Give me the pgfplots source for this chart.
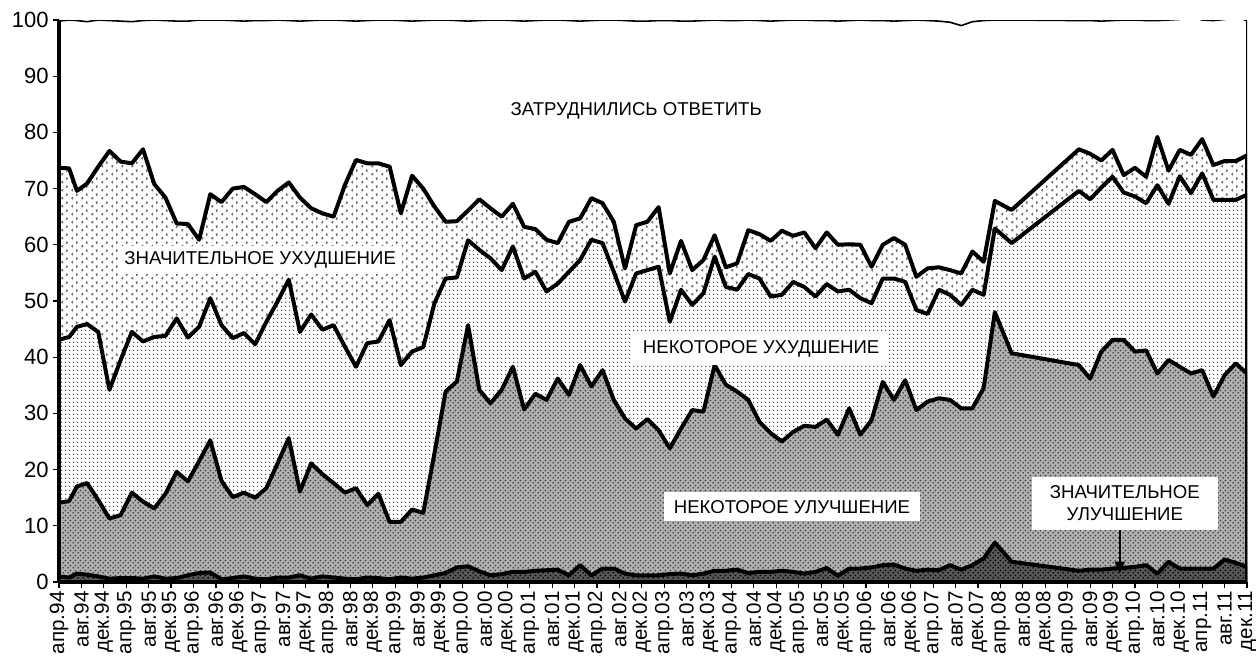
\documentclass[border=0pt]{standalone}
\usepackage{fontspec}
\setmainfont{Liberation Sans}
\usepackage{pgfplots}
\usepackage{pgfplotstable}
\pgfplotsset{compat=1.18}
\usetikzlibrary{patterns,arrows.meta}

\pgfdeclarepatternformonly{fdots}{\pgfpointorigin}{\pgfpoint{2pt}{2pt}}{\pgfpoint{2pt}{2pt}}{%
  \pgfpathcircle{\pgfpoint{1pt}{1pt}}{0.42pt}\pgfusepath{fill}}
\pgfdeclarepatternformonly{xdots}{\pgfpointorigin}{\pgfpoint{2.4pt}{2.4pt}}{\pgfpoint{2.4pt}{2.4pt}}{%
  \pgfpathcircle{\pgfpoint{0.6pt}{0.6pt}}{0.5pt}\pgfpathcircle{\pgfpoint{1.8pt}{1.8pt}}{0.5pt}\pgfusepath{fill}}
\pgfdeclarepatternformonly{chev}{\pgfpointorigin}{\pgfpoint{5pt}{4pt}}{\pgfpoint{5pt}{4pt}}{%
  \pgfsetlinewidth{0.5pt}%
  \pgfpathmoveto{\pgfpoint{1.7pt}{1.6pt}}\pgfpathlineto{\pgfpoint{0.9pt}{1pt}}\pgfpathlineto{\pgfpoint{1.7pt}{0.4pt}}%
  \pgfpathmoveto{\pgfpoint{3.3pt}{3.6pt}}\pgfpathlineto{\pgfpoint{4.1pt}{3pt}}\pgfpathlineto{\pgfpoint{3.3pt}{2.4pt}}%
  \pgfusepath{stroke}}

% m = months since April 1994; L1..L5 = cumulative boundaries
\pgfplotstableread{
m L1 L2 L3 L4 L5
0 1.0 14.1 43.1 73.7 99.8
1.8 0.8 14.4 43.6 73.6 100.0
3.2 1.5 17.0 45.4 69.6 99.9
5 1.3 17.6 45.9 70.9 99.7
7 1.0 14.6 44.5 73.9 100.0
9 0.6 11.3 34.2 76.7 99.9
11 0.7 11.9 39.5 74.8 99.8
13 0.7 15.9 44.5 74.5 99.7
15 0.6 14.3 42.8 77.0 99.9
17 1.0 13.1 43.6 70.8 100.0
19 0.6 15.7 43.8 68.4 99.9
21 0.7 19.6 46.9 63.8 99.8
23 1.2 17.9 43.5 63.7 99.8
25 1.6 21.5 45.4 60.9 100.0
27 1.7 25.2 50.5 69.0 100.0
29 0.5 18.0 45.7 67.6 100.0
31 0.7 15.1 43.4 70.0 99.9
33 1.0 15.9 44.3 70.3 99.8
35 0.6 15.0 42.3 69.0 99.9
37 0.5 16.7 46.3 67.6 99.9
39 0.8 21.1 49.9 69.6 100.0
41 0.8 25.6 53.8 71.1 99.9
43 1.2 16.1 44.5 68.4 99.8
45 0.6 21.1 47.6 66.5 99.9
47 1.0 19.2 44.9 65.6 100.0
49 0.8 17.6 45.7 65.0 100.0
51 0.6 15.9 41.9 70.6 99.9
53 0.5 16.7 38.3 75.1 99.8
55 0.8 13.7 42.5 74.5 99.9
57 0.7 15.7 42.8 74.5 100.0
59 0.5 10.7 46.6 73.9 100.0
61 0.8 10.7 38.6 65.6 99.9
63 0.6 12.9 41.0 72.3 99.8
65 0.8 12.3 41.8 70.0 99.9
67 1.2 22.9 49.6 66.8 100.0
69 1.6 33.9 54.0 64.1 100.0
71 2.6 35.7 54.2 64.2 99.9
73 2.8 45.7 60.8 66.1 99.8
75 1.9 34.2 59.1 68.1 99.9
77 1.2 31.8 57.6 66.5 100.0
79 1.4 34.2 55.5 65.0 100.0
81 1.8 38.3 59.7 67.3 99.9
83 1.8 30.7 54.0 63.2 99.8
85 2.0 33.5 55.2 62.8 99.9
87 2.1 32.4 51.7 60.9 100.0
89 2.2 36.2 53.1 60.3 100.0
91 1.2 33.3 55.2 64.1 99.9
93 3.0 38.6 57.3 64.7 99.8
95 1.2 34.8 60.9 68.3 99.9
97 2.4 37.7 60.3 67.4 100.0
99 2.4 32.4 55.2 64.1 100.0
101 1.5 29.1 49.9 55.8 99.9
103 1.2 27.3 54.9 63.5 99.8
105 1.2 29.0 55.5 64.1 99.8
107 1.2 27.0 56.1 66.7 99.9
109 1.4 23.8 46.3 54.9 99.9
111 1.5 27.3 52.0 60.7 99.8
113 1.2 30.6 49.3 55.5 99.8
115 1.5 30.3 51.4 57.3 99.9
117 2.0 38.6 57.9 61.7 100.0
119 2.0 35.1 52.5 56.0 99.9
121 2.2 33.9 52.0 56.7 99.9
123 1.6 32.4 54.8 62.6 100.0
125 1.8 28.5 54.0 61.9 99.9
127 1.8 26.5 50.8 60.7 99.8
129 2.0 25.0 51.1 62.5 99.9
131 1.8 26.7 53.4 61.6 100.0
133 1.5 27.8 52.5 62.2 100.0
135 1.8 27.6 50.8 59.4 99.9
137 2.5 28.9 53.0 62.2 99.9
139 1.1 26.2 51.7 60.0 99.8
141 2.4 30.9 52.0 60.1 99.9
143 2.4 26.2 50.5 60.0 100.0
145 2.6 28.8 49.6 56.1 99.9
147 3.0 35.6 54.0 60.0 99.9
149 3.1 32.4 54.0 61.2 99.8
151 2.4 35.9 53.4 60.0 99.9
153 2.0 30.6 48.4 54.3 100.0
155 2.2 32.1 47.7 55.8 99.9
157 2.1 32.7 52.0 56.0 99.8
159 3.0 32.4 51.1 55.5 99.6
161 2.2 30.9 49.3 54.9 99.0
163 3.0 30.9 52.0 58.8 99.7
165 4.2 34.5 51.1 57.0 99.9
167 7.0 48.0 62.9 67.8 100.0
170 3.6 40.7 60.3 66.2 100.0
182 2.0 38.6 69.6 77.0 99.9
184 2.2 36.2 68.1 76.2 99.9
186 2.2 41.0 70.2 75.0 99.8
188 2.4 43.1 72.1 76.9 99.9
190 2.5 43.1 69.3 72.4 100.0
192 2.7 41.0 68.6 73.7 100.0
194 3.0 41.2 67.4 72.1 99.9
196 1.5 37.1 70.6 79.2 99.9
198 3.6 39.5 67.3 73.2 100.0
200 2.4 38.3 72.2 76.9 100.1
202 2.4 37.1 69.2 76.0 100.6
204 2.4 37.7 72.7 78.8 100.0
206 2.4 33.0 68.0 74.2 99.9
208 4.0 36.8 68.0 74.9 100.1
210 3.4 38.9 68.0 74.9 100.5
212 2.7 37.1 68.9 75.9 99.9
}\datatable

\begin{document}
\begin{tikzpicture}
\useasboundingbox (-29.5pt,-36.5pt) rectangle (598.5pt,291pt);
\begin{axis}[
  at={(0,0)}, anchor=south west,
  scale only axis, width=594pt, height=281pt,
  xmin=0, xmax=212, ymin=0, ymax=100,
  axis x line*=bottom, axis y line*=left,
  axis line style={line width=1.6pt},
  xtick={0,4,...,212}, ytick={0,10,...,100},
  tick align=outside, major tick length=3pt,
  tick style={black, line width=0.6pt},
  /pgf/number format/assume math mode=true,
  xticklabels={апр.94,авг.94,дек.94,апр.95,авг.95,дек.95,апр.96,авг.96,дек.96,апр.97,авг.97,дек.97,апр.98,авг.98,дек.98,апр.99,авг.99,дек.99,апр.00,авг.00,дек.00,апр.01,авг.01,дек.01,апр.02,авг.02,дек.02,апр.03,авг.03,дек.03,апр.04,авг.04,дек.04,апр.05,авг.05,дек.05,апр.06,авг.06,дек.06,апр.07,авг.07,дек.07,апр.08,авг.08,дек.08,апр.09,авг.09,дек.09,апр.10,авг.10,дек.10,апр.11,авг.11,дек.11},
  xticklabel style={rotate=90, anchor=east, font=\fontsize{10.3}{11}\selectfont, inner sep=1.5pt},
  yticklabel style={font=\fontsize{11}{12}\selectfont, inner sep=2pt},
  axis on top,
  clip=true,
]
% fills
\addplot[draw=none, fill=white] table[x=m,y=L5]{\datatable} \closedcycle;
\addplot[draw=none, preaction={fill=white}, pattern=chev, pattern color=black!60] table[x=m,y=L4]{\datatable} \closedcycle;
\addplot[draw=none, preaction={fill=white}, pattern=fdots, pattern color=black!75] table[x=m,y=L3]{\datatable} \closedcycle;
\addplot[draw=none, preaction={fill=black!30}, pattern=xdots, pattern color=black!75] table[x=m,y=L2]{\datatable} \closedcycle;
\addplot[draw=none, preaction={fill=black!65}, pattern=xdots, pattern color=black] table[x=m,y=L1]{\datatable} \closedcycle;
% boundary lines
\addplot[draw=black, line width=0.8pt, line join=round] table[x=m,y=L5]{\datatable} \closedcycle;
\addplot[draw=black, line width=2pt, line join=round] table[x=m,y=L4]{\datatable} \closedcycle;
\addplot[draw=black, line width=2pt, line join=round] table[x=m,y=L3]{\datatable} \closedcycle;
\addplot[draw=black, line width=2pt, line join=round] table[x=m,y=L2]{\datatable} \closedcycle;
\addplot[draw=black, line width=2pt, line join=round] table[x=m,y=L1]{\datatable} \closedcycle;
% labels
\node[font=\fontsize{9.3}{10}\selectfont] at (axis cs:103,83.8) {ЗАТРУДНИЛИСЬ ОТВЕТИТЬ};
\node[fill=white, inner xsep=3pt, inner ysep=3pt, font=\fontsize{9.3}{10}\selectfont] at (axis cs:35.9,57.3) {ЗНАЧИТЕЛЬНОЕ УХУДШЕНИЕ};
\node[fill=white, inner xsep=5pt, inner ysep=4pt, font=\fontsize{9.3}{10}\selectfont] at (axis cs:125.3,41.5) {НЕКОТОРОЕ УХУДШЕНИЕ};
\node[fill=white, inner xsep=5pt, inner ysep=4pt, font=\fontsize{9.3}{10}\selectfont] at (axis cs:130.8,13.4) {НЕКОТОРОЕ УЛУЧШЕНИЕ};
\node[fill=white, align=center, inner xsep=9pt, inner ysep=4.5pt, font=\fontsize{9.3}{11}\selectfont] at (axis cs:190.2,14.0) {ЗНАЧИТЕЛЬНОЕ\\УЛУЧШЕНИЕ};
\draw[line width=0.9pt, -{Triangle[length=6pt,width=5pt]}] (axis cs:189.3,9.2) -- (axis cs:189.3,1.5);
\end{axis}
\end{tikzpicture}
\end{document}
